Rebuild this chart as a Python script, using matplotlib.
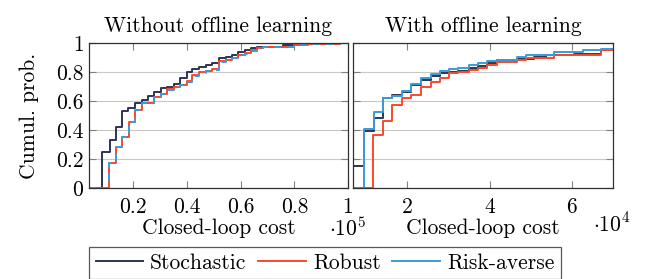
import numpy as np
import matplotlib
matplotlib.use("Agg")
import matplotlib.pyplot as plt
from matplotlib.lines import Line2D

plt.rcParams['font.family'] = 'serif'
plt.rcParams['font.serif'] = ['cmr10']
plt.rcParams['mathtext.fontset'] = 'cm'
plt.rcParams['axes.formatter.use_mathtext'] = True

# colours
c_sto = '#2c3654'
c_rob = '#f7492b'
c_ris = '#3c9bd8'

# left panel, cost in 1e5, step positions and cumulative probability after each step
left_sto_x = [0.035, 0.085, 0.113, 0.135, 0.159, 0.181, 0.206, 0.231, 0.256, 0.278, 0.303,
              0.327, 0.350, 0.375, 0.400, 0.420, 0.446, 0.470, 0.495, 0.520, 0.545, 0.569,
              0.590, 0.615, 0.637, 0.660, 0.758, 0.833, 0.960, 1.0]
left_sto_y = [0.0, 0.25, 0.33, 0.42, 0.53, 0.555, 0.585, 0.61, 0.635, 0.66, 0.69,
              0.70, 0.72, 0.76, 0.80, 0.82, 0.835, 0.85, 0.86, 0.895, 0.905, 0.915,
              0.935, 0.95, 0.965, 0.975, 0.985, 0.995, 1.0, 1.0]

left_rob_x = [0.035, 0.109, 0.134, 0.159, 0.184, 0.206, 0.231, 0.278, 0.303, 0.327, 0.352,
              0.375, 0.400, 0.420, 0.446, 0.470, 0.495, 0.520, 0.545, 0.569, 0.590, 0.615,
              0.637, 0.660, 0.685, 0.800, 0.852, 0.970, 1.0]
left_rob_y = [0.0, 0.17, 0.285, 0.355, 0.455, 0.54, 0.585, 0.63, 0.65, 0.68, 0.70,
              0.71, 0.735, 0.78, 0.80, 0.81, 0.82, 0.875, 0.885, 0.90, 0.92, 0.93,
              0.95, 0.965, 0.975, 0.985, 0.993, 1.0, 1.0]

left_ris_x = [0.035, 0.110, 0.134, 0.159, 0.184, 0.206, 0.231, 0.278, 0.303, 0.327, 0.352,
              0.375, 0.400, 0.420, 0.446, 0.470, 0.495, 0.520, 0.545, 0.569, 0.590, 0.615,
              0.637, 0.660, 0.685, 0.800, 0.852, 0.970, 1.0]
left_ris_y = [0.0, 0.17, 0.285, 0.35, 0.455, 0.535, 0.585, 0.625, 0.645, 0.675, 0.70,
              0.71, 0.73, 0.775, 0.795, 0.805, 0.815, 0.87, 0.88, 0.895, 0.915, 0.925,
              0.945, 0.96, 0.975, 0.985, 0.993, 1.0, 1.0]

# right panel, cost in 1e4
right_sto_x = [0.68, 0.943, 1.187, 1.41, 1.634, 1.86, 2.08, 2.325, 2.57, 2.79, 3.02, 3.24,
               3.49, 3.72, 3.93, 4.18, 4.67, 5.08, 5.37, 6.05, 6.72, 7.0]
right_sto_y = [0.155, 0.395, 0.48, 0.62, 0.642, 0.665, 0.71, 0.745, 0.775, 0.795, 0.80, 0.81,
               0.825, 0.84, 0.86, 0.88, 0.89, 0.905, 0.915, 0.925, 0.955, 0.955]

right_rob_x = [0.68, 1.17, 1.41, 1.634, 1.86, 2.08, 2.325, 2.57, 2.79, 3.02, 3.24, 3.49,
               3.72, 3.93, 4.18, 4.67, 4.89, 5.57, 6.72, 7.0]
right_rob_y = [0.0, 0.365, 0.46, 0.573, 0.62, 0.643, 0.70, 0.728, 0.758, 0.79, 0.80, 0.815,
               0.825, 0.85, 0.87, 0.885, 0.895, 0.92, 0.955, 0.955]

right_ris_x = [0.68, 0.943, 1.187, 1.41, 1.634, 1.86, 2.08, 2.325, 2.57, 2.79, 3.02, 3.24,
               3.49, 3.72, 3.93, 4.18, 4.67, 4.89, 5.57, 6.26, 6.72, 7.0]
right_ris_y = [0.0, 0.41, 0.527, 0.624, 0.635, 0.672, 0.718, 0.762, 0.785, 0.805, 0.82, 0.83,
               0.85, 0.862, 0.874, 0.885, 0.904, 0.918, 0.937, 0.95, 0.96, 0.96]

labels = ['Stochastic', 'Robust', 'Risk-averse']
fs = 15.5
lw = 1.4

fig = plt.figure(figsize=(6.49, 2.79), dpi=100)
axL = fig.add_axes([89/649, 1-188/279, 259/649, 145/279])
axR = fig.add_axes([353/649, 1-188/279, 260/649, 145/279])

def style(ax):
    ax.set_ylim(0, 1)
    ax.set_yticks([0, 0.2, 0.4, 0.6, 0.8, 1])
    ax.yaxis.grid(True, color='#c8c8c8', lw=0.8)
    ax.set_axisbelow(True)
    ax.tick_params(direction='in', top=True, right=True, length=5,
                   color='#808080', labelsize=fs, pad=4)
    ax.tick_params(axis='x', pad=7)
    for s in ax.spines.values():
        s.set_color('#303030')
        s.set_linewidth(0.9)

axL.step(left_sto_x, left_sto_y, where='post', color=c_sto, lw=lw)
axL.step(left_rob_x, left_rob_y, where='post', color=c_rob, lw=lw)
axL.step(left_ris_x, left_ris_y, where='post', color=c_ris, lw=lw, dashes=(3.5, 3.5))
axL.set_xlim(0.035, 1.0)
axL.set_xticks([0.2, 0.4, 0.6, 0.8, 1.0])
axL.set_xticklabels(['0.2', '0.4', '0.6', '0.8', '1'])
axL.set_yticklabels(['0', '0.2', '0.4', '0.6', '0.8', '1'])
style(axL)
axL.set_title('Without offline learning', fontsize=fs, pad=8)
axL.set_xlabel('Closed-loop cost', fontsize=fs, labelpad=1)
axL.set_ylabel('Cumul. prob.', fontsize=fs, labelpad=12)
axL.text(348/649, 1-228/279, r'$\cdot 10^5$', transform=fig.transFigure, fontsize=fs,
         ha='center', va='center')

axR.step(right_sto_x, right_sto_y, where='post', color=c_sto, lw=lw)
axR.step(right_rob_x, right_rob_y, where='post', color=c_rob, lw=lw)
axR.step(right_ris_x, right_ris_y, where='post', color=c_ris, lw=lw)
axR.set_xlim(0.68, 7.0)
axR.set_xticks([2, 4, 6])
axR.set_xticklabels(['2', '4', '6'])
style(axR)
axR.set_yticklabels([])
axR.set_title('With offline learning', fontsize=fs, pad=8)
axR.set_xlabel('Closed-loop cost', fontsize=fs, labelpad=1)
axR.text(612/649, 1-224/279, r'$\cdot 10^4$', transform=fig.transFigure, fontsize=fs,
         ha='center', va='center')

handles = [Line2D([], [], color=c, lw=lw) for c in (c_sto, c_rob, c_ris)]
leg = fig.legend(handles, labels, ncol=3, loc='upper center', bbox_to_anchor=(325/649, 1-247/279),
                 fontsize=fs, frameon=True, fancybox=False, edgecolor='#303030',
                 handlelength=2.2, handletextpad=0.33, columnspacing=0.55, borderpad=0.3,
                 borderaxespad=0)
leg.get_frame().set_linewidth(0.9)

fig.savefig('out.png', dpi=100)
